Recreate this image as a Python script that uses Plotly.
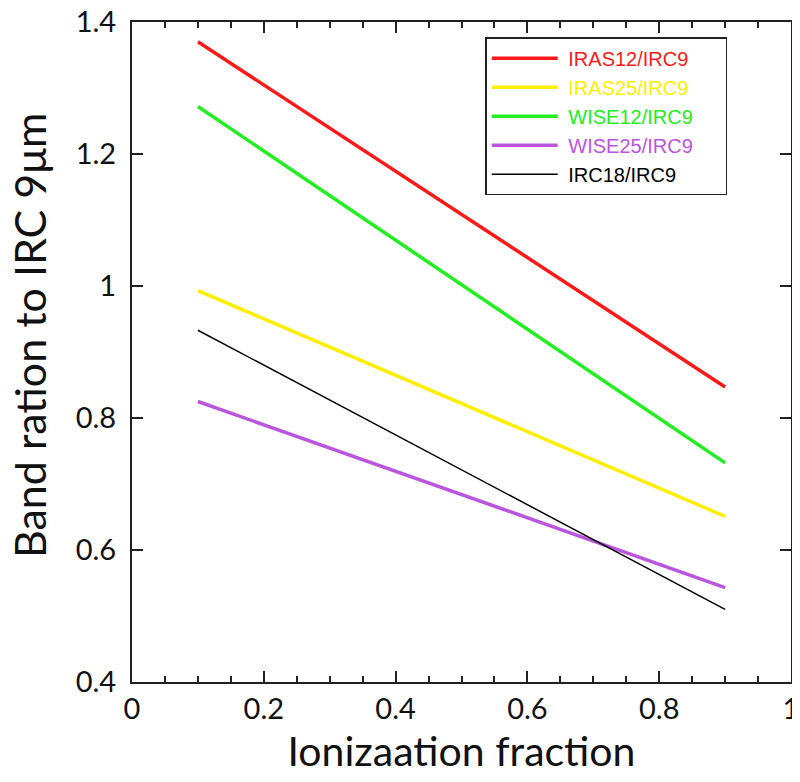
import plotly.graph_objects as go

# ionization fraction endpoints
x_frac = [0.1, 0.9]

# band ratios relative to IRC 9um
iras12 = [1.370, 0.847]
iras25 = [0.993, 0.651]
wise12 = [1.272, 0.732]
wise25 = [0.825, 0.543]
irc18 = [0.933, 0.510]

series = [
    ("IRAS12/IRC9", iras12, "#ff1a1a", 3.5),
    ("IRAS25/IRC9", iras25, "#ffee00", 3.5),
    ("WISE12/IRC9", wise12, "#22ee22", 3.5),
    ("WISE25/IRC9", wise25, "#bb55dd", 3.5),
    ("IRC18/IRC9", irc18, "#000000", 1.5),
]

pad = "&nbsp;" * 5  # widen the legend box a bit

fig = go.Figure()
for name, vals, col, w in series:
    fig.add_trace(go.Scatter(
        x=x_frac, y=vals, mode="lines",
        name=f"&nbsp;<span style='color:{col}'>{name}</span>{pad}",
        line=dict(color=col, width=w),
    ))

axis_style = dict(
    showgrid=False, zeroline=False, automargin=False,
    showline=True, linecolor="#222", linewidth=2,
    mirror="allticks", ticks="inside", ticklen=11, tickwidth=1.5, tickcolor="#222",
    tickfont=dict(family="Lato", size=29, color="#111"),
    ticklabeloverflow="allow",
)

fig.update_xaxes(
    range=[0, 1], tickvals=[0, 0.2, 0.4, 0.6, 0.8, 1],
    ticktext=["0", "0.2", "0.4", "0.6", "0.8", "1"],
    minor=dict(dtick=0.05, ticks="inside", ticklen=6, tickwidth=1.5, tickcolor="#222"),
    title=dict(text="Ionizaation fraction", font=dict(family="Lato", size=41, color="#111"), standoff=14),
    **axis_style,
)
fig.update_yaxes(
    range=[0.4, 1.4], tickvals=[0.4, 0.6, 0.8, 1.0, 1.2, 1.4],
    ticktext=["0.4", "0.6", "0.8", "1", "1.2", "1.4"],
    ticklabelstandoff=8,
    **axis_style,
)

# y title as an annotation so it can sit further left than the margin allows
fig.add_annotation(
    text="Band ration to IRC 9μm", textangle=-90,
    xref="paper", yref="paper", x=0, y=0.5, xanchor="center", yanchor="middle",
    xshift=-103, yshift=16, showarrow=False,
    font=dict(family="Lato", size=43, color="#111"),
)

# page body has an 8px margin, so margins are shifted to compensate
fig.update_layout(
    width=800, height=782,
    margin=dict(l=124, r=17, t=14, b=108),
    plot_bgcolor="white", paper_bgcolor="white",
    legend=dict(
        x=0.536, y=0.977, xanchor="left", yanchor="top",
        bordercolor="#222", borderwidth=1.5, bgcolor="white",
        font=dict(family="Liberation Sans", size=20),
        itemwidth=66, tracegroupgap=0,
    ),
)

fig.write_html("out.html")
